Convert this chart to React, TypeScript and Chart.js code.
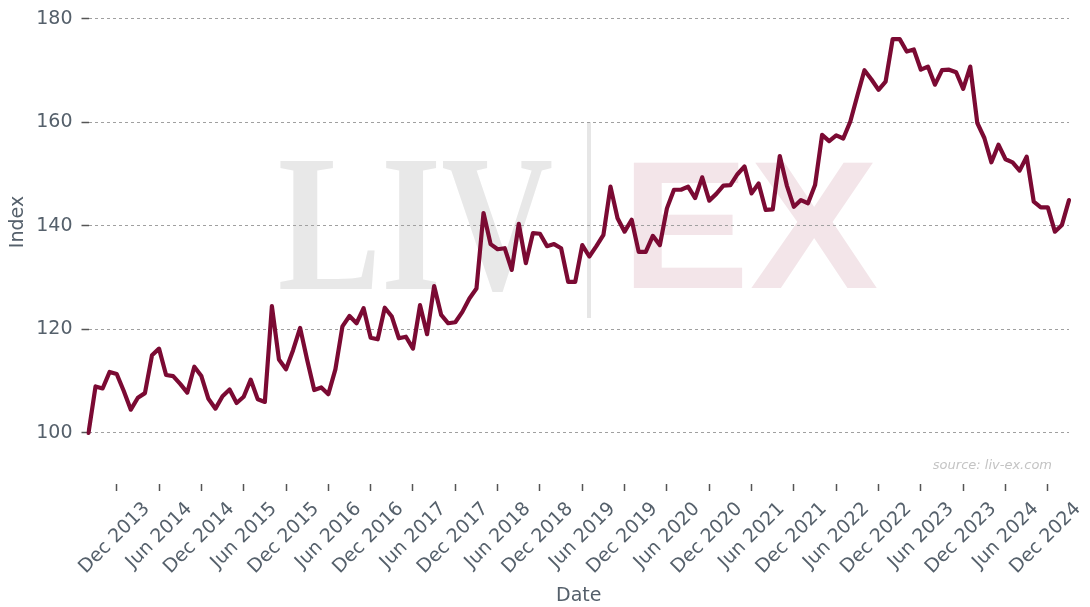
import React, { useEffect, useRef } from 'react';
import { Chart, registerables } from 'chart.js';

Chart.register(...registerables);

const MONTH_NAMES = ['Jan', 'Feb', 'Mar', 'Apr', 'May', 'Jun', 'Jul', 'Aug', 'Sep', 'Oct', 'Nov', 'Dec'];
const START_YEAR = 2013;
const START_MONTH = 7; // August (0-based)

const INDEX_VALUES = [
  100.0, 109.0, 108.6, 111.8, 111.4, 108.1, 104.5, 106.8, 107.7, 115.0,
  116.3, 111.2, 111.0, 109.5, 107.8, 112.8, 111.0, 106.6, 104.7, 107.1,
  108.4, 105.8, 107.0, 110.3, 106.5, 106.0, 124.5, 114.2, 112.3, 116.0,
  120.3, 114.1, 108.3, 108.8, 107.5, 112.3, 120.6, 122.6, 121.2, 124.1,
  118.4, 118.1, 124.2, 122.5, 118.3, 118.6, 116.3, 124.7, 119.1, 128.4,
  122.8, 121.2, 121.4, 123.4, 126.0, 127.9, 142.5, 136.5, 135.5, 135.7,
  131.5, 140.4, 132.8, 138.6, 138.5, 136.1, 136.5, 135.7, 129.2, 129.2,
  136.3, 134.1, 136.1, 138.3, 147.6, 141.5, 138.9, 141.2, 135.0, 135.0,
  138.1, 136.3, 143.4, 147.0, 147.0, 147.6, 145.4, 149.4, 144.9, 146.2,
  147.8, 147.9, 150.0, 151.5, 146.3, 148.2, 143.1, 143.2, 153.5, 147.8,
  143.7, 145.0, 144.4, 147.9, 157.6, 156.4, 157.5, 156.9, 160.2, 165.2,
  170.1, 168.3, 166.3, 167.9, 176.1, 176.1, 173.7, 174.1, 170.2, 170.8,
  167.3, 170.1, 170.2, 169.7, 166.5, 170.8, 159.9, 157.0, 152.3, 155.7,
  152.9, 152.3, 150.7, 153.4, 144.7, 143.6, 143.6, 138.9, 140.2, 145.0,
];

const Y_TICKS = [100, 120, 140, 160, 180];
const X_TICK_MONTHS = ['Dec', 'Jun'];
const WATERMARK_LEFT = 'LIV';
const WATERMARK_RIGHT = 'EX';
const SOURCE_TEXT = 'source: liv-ex.com';
const Y_TITLE = 'Index';
const X_TITLE = 'Date';

const MONTH_LABELS = INDEX_VALUES.map((_, i) => {
  const m = START_MONTH + i;
  return `${MONTH_NAMES[m % 12]} ${START_YEAR + Math.floor(m / 12)}`;
});

const TEXT_COLOR = '#55606b';
const FONT_FAMILY = '"DejaVu Sans", sans-serif';

const decorPlugin = {
  id: 'decor',
  beforeDraw(chart: any) {
    const ctx = chart.ctx;
    ctx.save();
    ctx.fillStyle = '#e8e8e8';
    ctx.font = 'bold 196px "Liberation Serif", serif';
    ctx.textAlign = 'right';
    ctx.textBaseline = 'alphabetic';
    ctx.translate(553, 289);
    ctx.scale(0.79, 1);
    ctx.fillText(WATERMARK_LEFT, 0, 0);
    ctx.restore();
    ctx.save();
    ctx.fillStyle = '#e6e6e6';
    ctx.fillRect(587, 122, 4, 196);
    ctx.restore();
    ctx.save();
    ctx.fillStyle = '#f3e5e9';
    ctx.font = 'bold 182px "Liberation Sans", sans-serif';
    ctx.textAlign = 'left';
    ctx.textBaseline = 'alphabetic';
    ctx.translate(621, 288);
    ctx.scale(1.06, 1);
    ctx.fillText(WATERMARK_RIGHT, 0, 0);
    ctx.restore();
  },
  afterDraw(chart: any) {
    const ctx = chart.ctx;
    ctx.save();
    ctx.font = `italic 13px ${FONT_FAMILY}`;
    ctx.fillStyle = '#c4c4c4';
    ctx.textAlign = 'right';
    ctx.textBaseline = 'middle';
    ctx.fillText(SOURCE_TEXT, 1052, 466);
    ctx.restore();
    ctx.save();
    ctx.translate(18, 222);
    ctx.rotate(-Math.PI / 2);
    ctx.font = `19px ${FONT_FAMILY}`;
    ctx.fillStyle = TEXT_COLOR;
    ctx.textAlign = 'center';
    ctx.textBaseline = 'middle';
    ctx.fillText(Y_TITLE, 0, 0);
    ctx.restore();
  },
};

export default function App() {
  const canvasRef = useRef<HTMLCanvasElement | null>(null);

  useEffect(() => {
    if (!canvasRef.current) return;
    const chart = new Chart(canvasRef.current, {
      type: 'line',
      data: {
        labels: MONTH_LABELS,
        datasets: [
          {
            data: INDEX_VALUES,
            borderColor: '#7b0a33',
            borderWidth: 4.2,
            pointRadius: 0,
            tension: 0,
            borderJoinStyle: 'round',
            borderCapStyle: 'round',
            fill: false,
          },
        ],
      },
      options: {
        animation: false,
        responsive: false,
        devicePixelRatio: 1,
        layout: { padding: { left: 0, right: 21, top: 5, bottom: 0 } },
        plugins: { legend: { display: false }, tooltip: { enabled: false } },
        scales: {
          x: {
            type: 'category',
            offset: false,
            grid: {
              display: true,
              drawOnChartArea: false,
              drawTicks: true,
              tickLength: 7,
              tickColor: '#555',
              tickWidth: 1.5,
            },
            border: { display: false },
            ticks: {
              autoSkip: false,
              maxRotation: 45,
              minRotation: 45,
              labelOffset: 30,
              padding: 7,
              color: TEXT_COLOR,
              font: { family: FONT_FAMILY, size: 19 },
            },
            title: {
              display: true,
              text: X_TITLE,
              color: TEXT_COLOR,
              font: { family: FONT_FAMILY, size: 19 },
              padding: { top: 0, bottom: 0 },
            },
            afterBuildTicks: (axis: any) => {
              axis.ticks = axis.ticks.filter((t: any) =>
                X_TICK_MONTHS.includes(MONTH_LABELS[t.value].slice(0, 3))
              );
            },
            afterFit: (axis: any) => {
              axis.height = 123;
              axis.paddingLeft = 0;
              axis.paddingRight = 0;
            },
          },
          y: {
            min: 90.14,
            max: 182.7,
            afterBuildTicks: (axis: any) => {
              axis.ticks = Y_TICKS.map((v) => ({ value: v }));
            },
            grid: {
              color: '#a0a0a0',
              lineWidth: 1,
              drawTicks: true,
              tickLength: 7,
              tickColor: '#555',
              tickWidth: 1.5,
            },
            border: { display: false, dash: [3, 3] },
            ticks: {
              padding: 9,
              color: TEXT_COLOR,
              font: { family: FONT_FAMILY, size: 19 },
            },
            afterFit: (axis: any) => {
              axis.width = 88.5;
              axis.paddingTop = 0;
              axis.paddingBottom = 0;
            },
          },
        },
      } as any,
      plugins: [decorPlugin],
    });
    return () => chart.destroy();
  }, []);

  return (
    <div style={{ position: 'fixed', left: 0, top: 0, width: 1090, height: 607, background: '#fff' }}>
      <canvas ref={canvasRef} width={1090} height={607} />
    </div>
  );
}
